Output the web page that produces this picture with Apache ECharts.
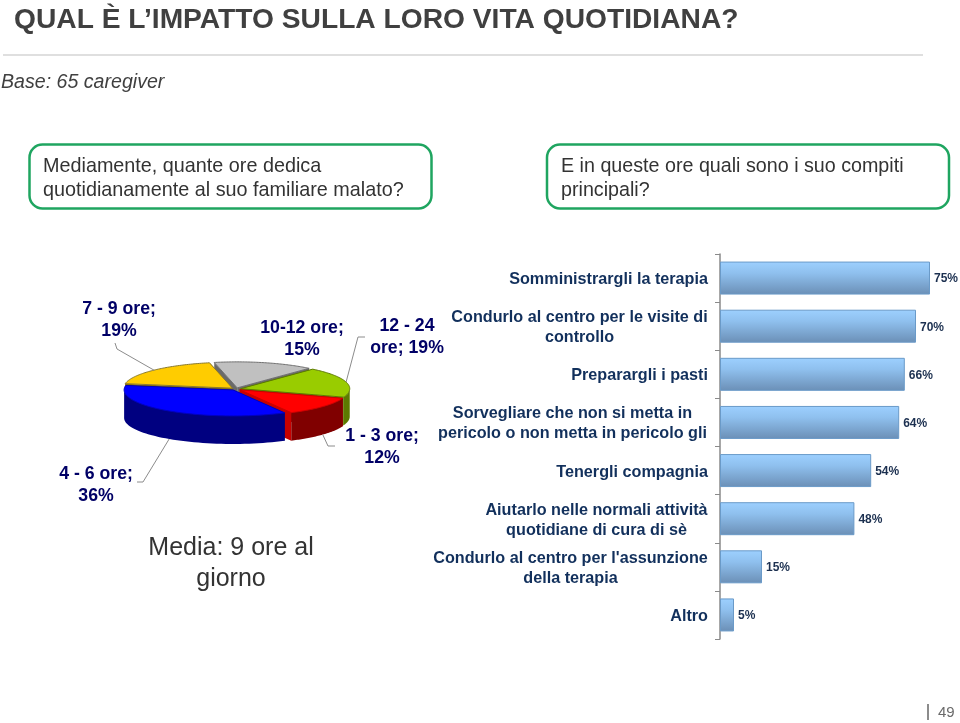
<!DOCTYPE html>
<html><head><meta charset="utf-8">
<style>html,body{margin:0;padding:0;background:#fff}#c{width:960px;height:723px}</style>
<script src="https://cdn.jsdelivr.net/npm/echarts@6/dist/echarts.min.js"></script>
</head><body><div id="c"></div>
<script>
// ---- data ----
const sliceNames = ['1 - 3 ore', '4 - 6 ore', '7 - 9 ore', '10-12 ore', '12 - 24 ore'];
const sliceValues = [12, 36, 19, 15, 19];
const taskNames = [
  'Somministrargli la terapia',
  'Condurlo al centro per le visite di\ncontrollo',
  'Preparargli i pasti',
  'Sorvegliare che non si metta in\npericolo o non metta in pericolo gli',
  'Tenergli compagnia',
  'Aiutarlo nelle normali attività\nquotidiane di cura di sè',
  "Condurlo al centro per l'assunzione\ndella terapia",
  'Altro'
];
const taskValues = [75, 70, 66, 64, 54, 48, 15, 5];

// ---- styling / layout ----
const FONT = '"Liberation Sans", Arial, sans-serif';
const sliceTop = ['#ff0000', '#0000ff', '#ffcc00', '#c0c0c0', '#99cc00'];
const sliceWall = ['#800000', '#000080', '#8a6f00', '#6a6a6a', '#5c7a00'];
const sliceRadial = ['#c80000', '#000080', '#8a6f00', '#6a6a6a', '#5c7a00'];
const sliceEdge = ['#cc0000', '#0000c0', '#8a7a30', '#707070', '#5c7a00'];
const PIE = {cx: 236, cy: 389, rx: 109, ry: 26, depth: 28, start: 109, explode: 0.045};
const sliceLabels = [
  {x: 382, y: 436, br: 10, elbow: [[335, 446], [328, 446]]},
  {x: 96, y: 474, br: 10, elbow: [[137, 482], [143, 482]]},
  {x: 119, y: 309, br: 10, elbow: [[115, 343], [117, 349]]},
  {x: 302, y: 328, br: 10},
  {x: 407, y: 326, br: 7, elbow: [[365, 337], [358, 337]]}
];
const taskLabelWidths = [0, 257, 0, 271, 0, 223, 275, 0];

// ---- pie geometry from the values ----
const total = sliceValues.reduce((a, b) => a + b, 0);
let cursor = PIE.start;
const slices = sliceValues.map((v, i) => {
  let a0 = cursor, a1 = cursor + v / total * 360;
  cursor = a1;
  if (a0 >= 360) { a0 -= 360; a1 -= 360; }
  const mid = (a0 + a1) / 2, r = mid * Math.PI / 180;
  return {i, a0, a1, mid,
    ox: Math.sin(r) * PIE.rx * PIE.explode,
    oy: -Math.cos(r) * PIE.ry * PIE.explode};
});
const drawOrder = slices.slice().sort((p, q) =>
  Math.cos(q.mid * Math.PI / 180) - Math.cos(p.mid * Math.PI / 180));

function rim(s, deg, down) {
  const r = deg * Math.PI / 180;
  return [PIE.cx + s.ox + Math.sin(r) * PIE.rx, PIE.cy + s.oy - Math.cos(r) * PIE.ry + (down || 0)];
}
function renderSlice(params) {
  const s = drawOrder[params.dataIndex];
  const apex = [PIE.cx + s.ox, PIE.cy + s.oy];
  const apexLow = [apex[0], apex[1] + PIE.depth];
  const kids = [];
  // radial walls
  [s.a0, s.a1].forEach(a => {
    const p = rim(s, a), q = rim(s, a, PIE.depth);
    kids.push({type: 'polygon', shape: {points: [apex, p, q, apexLow]},
      style: {fill: sliceRadial[s.i]}});
  });
  // outer wall, only the part that faces the viewer
  const from = Math.max(s.a0, 90), to = Math.min(s.a1, 270);
  if (to > from) {
    const top = [], low = [];
    for (let k = 0; k <= 48; k++) {
      const a = from + (to - from) * k / 48;
      top.push(rim(s, a));
      low.unshift(rim(s, a, PIE.depth));
    }
    kids.push({type: 'polygon', shape: {points: top.concat(low)},
      style: {fill: sliceWall[s.i]}});
  }
  // top face
  const face = [apex];
  for (let k = 0; k <= 64; k++) face.push(rim(s, s.a0 + (s.a1 - s.a0) * k / 64));
  kids.push({type: 'polygon', shape: {points: face},
    style: {fill: sliceTop[s.i], stroke: sliceEdge[s.i], lineWidth: 1}});
  return {type: 'group', children: kids};
}
function renderLabel(params) {
  const s = slices[params.dataIndex], L = sliceLabels[s.i];
  const text = sliceNames[s.i] + '; ' + sliceValues[s.i] + '%';
  const kids = [];
  if (L.elbow) {
    const r = s.mid * Math.PI / 180;
    const anchor = rim(s, s.mid, Math.cos(r) < 0 ? PIE.depth : 0);
    kids.push({type: 'polyline', shape: {points: L.elbow.concat([anchor])},
      style: {stroke: '#8c8c8c', lineWidth: 1, fill: 'none'}});
  }
  kids.push({type: 'text', x: L.x, y: L.y - 11, style: {
    text: text.slice(0, L.br).trim() + '\n' + text.slice(L.br).trim(),
    font: 'bold 17.7px ' + FONT, fill: '#000066', align: 'center', verticalAlign: 'top', lineHeight: 22
  }});
  return {type: 'group', children: kids};
}

// ---- slide furniture ----
function txt(x, y, text, font, fill, align) {
  return {type: 'text', x, y, style: {text, font: font + ' ' + FONT, fill: fill || '#404040',
    align: align || 'left', verticalAlign: 'middle', lineHeight: 24}};
}
function box(x, y, w, h) {
  return {type: 'rect', shape: {x, y, width: w, height: h, r: 13},
    style: {fill: '#fff', stroke: '#1fa560', lineWidth: 2.5}};
}
const rich = {};
taskLabelWidths.forEach((w, i) => { if (w) rich['w' + i] = {width: w, align: 'center',
  fontFamily: FONT, fontSize: 16.2, fontWeight: 'bold', color: '#12305c', lineHeight: 20}; });

const chart = echarts.init(document.getElementById('c'), null, {renderer: 'canvas'});
chart.setOption({
  backgroundColor: '#fff',
  animation: false,
  graphic: [
    txt(14, 20, 'QUAL È L’IMPATTO SULLA LORO VITA QUOTIDIANA?', 'bold 28.2px'),
    {type: 'line', shape: {x1: 3, y1: 55, x2: 923, y2: 55}, style: {stroke: '#d4d4d4', lineWidth: 1.5}},
    txt(1, 83, 'Base: 65 caregiver', 'italic 19.6px'),
    box(29.5, 144.5, 402, 64), box(547, 144.5, 402, 64),
    txt(43, 178.5, 'Mediamente, quante ore dedica\nquotidianamente al suo familiare malato?', '19.8px', '#333'),
    txt(561, 178.5, 'E in queste ore quali sono i suo compiti\nprincipali?', '19.7px', '#333'),
    {type: 'text', x: 231, y: 564, style: {text: 'Media: 9 ore al\ngiorno', font: '25px ' + FONT,
      fill: '#333', align: 'center', verticalAlign: 'middle', lineHeight: 31}},
    {type: 'line', shape: {x1: 928, y1: 704, x2: 928, y2: 720}, style: {stroke: '#666', lineWidth: 1.5}},
    txt(938, 713, '49', '15px', '#6a6a6a')
  ],
  grid: {left: 720, top: 254, width: 238, height: 385, containLabel: false},
  xAxis: {type: 'value', min: 0, max: 85, show: false},
  yAxis: {type: 'category', inverse: true, data: taskNames,
    axisLine: {show: true, lineStyle: {color: '#8a8a8a', width: 1.5}},
    axisTick: {show: true, length: 5, alignWithLabel: false, lineStyle: {color: '#8a8a8a'}},
    axisLabel: {interval: 0, margin: 12, padding: [3, 0, 0, 0],
      fontFamily: FONT, fontSize: 16.2, fontWeight: 'bold', color: '#12305c', lineHeight: 20, rich,
      formatter: (v, i) => taskLabelWidths[i]
        ? v.split('\n').map(l => '{w' + i + '|' + l + '}').join('\n') : v}
  },
  series: [
    {type: 'bar', data: taskValues, barWidth: 33, silent: true,
      itemStyle: {borderColor: '#6a9ac8', borderWidth: 1,
        color: {type: 'linear', x: 0, y: 0, x2: 0, y2: 1, colorStops: [
          {offset: 0, color: '#9dd0ff'}, {offset: 0.35, color: '#8fc0ee'}, {offset: 1, color: '#6b8fb6'}]}},
      label: {show: true, position: 'right', distance: 4, offset: [0, 1], formatter: '{c}%',
        fontFamily: FONT, fontSize: 12, fontWeight: 'bold', color: '#1c3050'}},
    {type: 'custom', coordinateSystem: 'none', silent: true, clip: false,
      data: drawOrder.map(s => sliceValues[s.i]), renderItem: renderSlice},
    {type: 'custom', coordinateSystem: 'none', silent: true, clip: false,
      data: sliceValues, renderItem: renderLabel}
  ]
});
</script></body></html>
